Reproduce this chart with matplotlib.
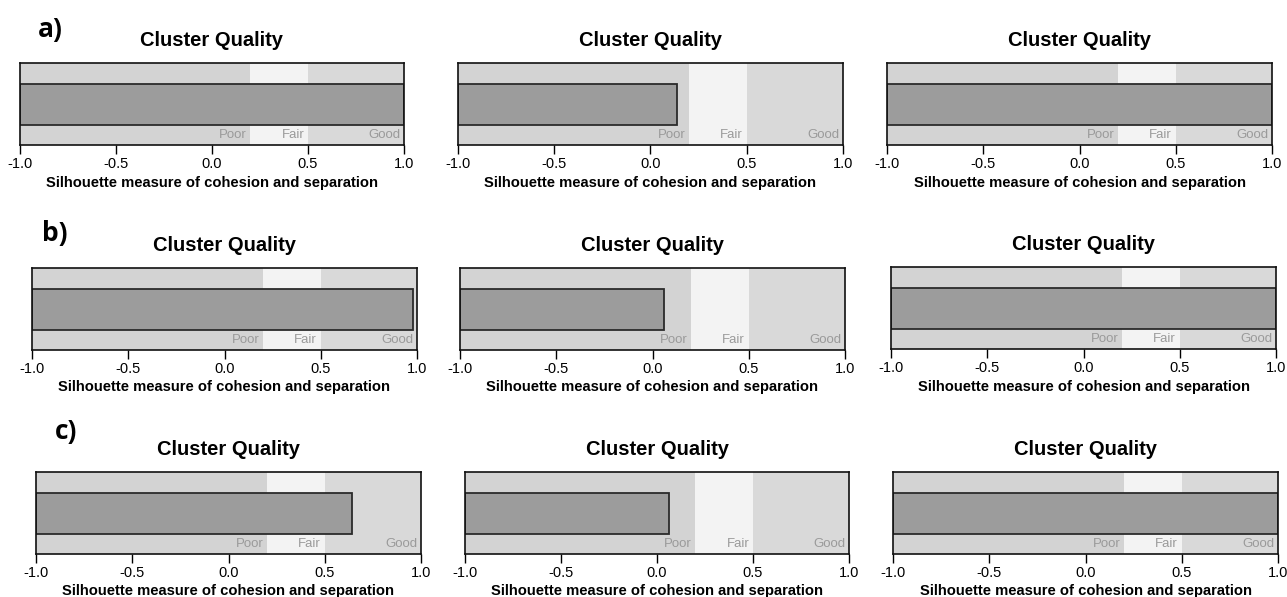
import matplotlib
matplotlib.use("Agg")
import matplotlib.pyplot as plt

plt.rcParams['font.family'] = ['Liberation Sans', 'DejaVu Sans']

# Data
row_labels = ["a)", "b)", "c)"]
silhouette = [
    [1.0, 0.14, 1.0],
    [0.98, 0.06, 1.0],
    [0.64, 0.06, 1.0],
]
zone_names = ["Poor", "Fair", "Good"]
zone_edges = [-1.0, 0.2, 0.5, 1.0]
zone_colors = ["#d3d3d3", "#f3f3f3", "#d9d9d9"]
xticks = [-1.0, -0.5, 0.0, 0.5, 1.0]
xtick_labels = ["-1.0", "-0.5", "0.0", "0.5", "1.0"]
title = "Cluster Quality"
xlabel = "Silhouette measure of cohesion and separation"

W, H = 1287, 597
fig = plt.figure(figsize=(W / 100, H / 100), dpi=100)

# panel boxes in pixels: (left, right, top, bottom)
boxes = [
    [(20, 404, 63, 145), (458, 843, 63, 145), (887, 1272, 63, 145)],
    [(32, 417, 268, 350), (460, 845, 268, 350), (891, 1276, 267, 349)],
    [(36, 421, 472, 554), (465, 849, 472, 554), (893, 1278, 472, 554)],
]
letter_pos = [(50, 29), (55, 233), (66, 431)]

for r in range(3):
    for c in range(3):
        l, rr, t, b = boxes[r][c]
        ax = fig.add_axes([l / W, 1 - b / H, (rr - l) / W, (b - t) / H])
        for i in range(3):
            ax.axvspan(zone_edges[i], zone_edges[i + 1], color=zone_colors[i], lw=0, zorder=0)
            ax.text(zone_edges[i + 1] - 0.02, 0.05, zone_names[i], ha="right", va="bottom",
                    fontsize=9.5, color="#9a9a9a", zorder=1)
        ax.barh([0.5], [silhouette[r][c] - (-1.0)], left=-1.0, height=0.5,
                color="#9c9c9c", edgecolor="#2b2b2b", linewidth=1.3, zorder=2)
        ax.set_xlim(-1.0, 1.0)
        ax.set_ylim(0, 1)
        ax.set_yticks([])
        ax.set_xticks(xticks)
        ax.set_xticklabels(xtick_labels)
        ax.tick_params(axis="x", length=6.5, width=1.0, pad=2, labelsize=10.5, direction="out")
        for s in ax.spines.values():
            s.set_linewidth(1.2)
            s.set_color("#111111")
        ax.annotate(title, xy=(0.5, 1), xycoords="axes fraction", xytext=(0, 16.5),
                    textcoords="offset points", ha="center", va="center",
                    fontsize=14.5, fontweight="bold")
        ax.annotate(xlabel, xy=(0.5, 0), xycoords="axes fraction", xytext=(0, -27),
                    textcoords="offset points", ha="center", va="center",
                    fontsize=10.6, fontweight="bold")
    x, y = letter_pos[r]
    fig.text(x / W, 1 - y / H, row_labels[r], ha="center", va="center",
             fontsize=19, fontweight="bold", family=["Open Sans", "DejaVu Sans"])

fig.savefig("out.png", dpi=100)
